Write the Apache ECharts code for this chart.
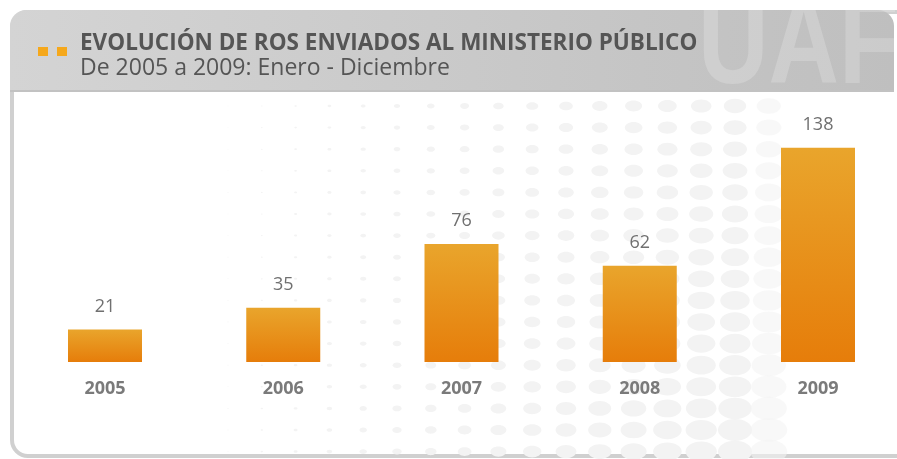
<!DOCTYPE html>
<html>
<head>
<meta charset="utf-8">
<script src="https://cdn.jsdelivr.net/npm/echarts@6/dist/echarts.min.js"></script>
<style>
  html, body { margin: 0; padding: 0; background: #fff; }
  #graph { width: 897px; height: 459px; }
</style>
</head>
<body>
<div id="graph"></div>
<script>
"use strict"

const years = ["2005", "2006", "2007", "2008", "2009"];
const rosCount = [21, 35, 76, 62, 138];
const titleText = "EVOLUCIÓN DE ROS ENVIADOS AL MINISTERIO PÚBLICO";
const subText = "De 2005 a 2009: Enero - Diciembre";

const FONT = "'Open Sans'";

// halftone dots in the background (decoration only)
function makeDots()
{
    const dots = [];
    for (let y = 106; y < 462; y += 21.6)
    {
        for (let x = 228; x < 800; x += 33.8)
        {
            const fx = (x - 220) / 480;
            const fy = 0.65 + 0.35 * Math.min(1, (y - 100) / 330);
            const rx = (0.6 + Math.pow(fx, 1.3) * 15) * fy;
            const op = x > 740 ? Math.max(0, 1 - (x - 740) / 70) : 1;
            dots.push({
                type: "ellipse",
                shape: { cx: x, cy: y, rx: rx, ry: rx * 0.64 },
                style: { fill: "#f3f3f3", opacity: op },
                z: 3, silent: true
            });
        }
    }
    return dots;
}

const myChart = echarts.init(document.getElementById("graph"), null, { renderer: "canvas" });

const option = {
    backgroundColor: "#fff",
    animation: false,
    graphic: [
        {
            type: "rect", z: 0, silent: true,
            shape: { x: 12, y: 12, width: 900, height: 444, r: 16 },
            style: { fill: "#fff", stroke: "#d0d0d0", lineWidth: 4 }
        },
        {
            type: "rect", z: 1, silent: true,
            shape: { x: 10, y: 10, width: 884, height: 82, r: [16, 16, 0, 0] },
            style: {
                fill: new echarts.graphic.LinearGradient(0, 0, 1, 0, [
                    { offset: 0, color: "#d4d4d4" },
                    { offset: 1, color: "#bfbfbf" }
                ])
            }
        },
        {
            type: "text", z: 2, silent: true,
            x: 698, y: -12, scaleX: 0.8,
            style: {
                text: "UAF", fill: "rgba(255,255,255,0.2)",
                font: "bold 122px 'Liberation Sans'"
            }
        },
        {
            type: "rect", z: 2, silent: true,
            shape: { x: 14, y: 92, width: 890, height: 60 },
            style: { fill: "#fff" }
        },
        {
            type: "rect", z: 2, silent: true,
            shape: { x: 10, y: 90, width: 884, height: 2 },
            style: { fill: "#c2c2c2" }
        },
        {
            type: "rect", z: 2, silent: true,
            shape: { x: 38, y: 47, width: 10, height: 9 },
            style: { fill: "#f5a81c" }
        },
        {
            type: "rect", z: 2, silent: true,
            shape: { x: 57, y: 47, width: 10, height: 9 },
            style: { fill: "#f5a81c" }
        },
        {
            type: "text", z: 4, silent: true,
            left: 80, top: 32,
            style: { text: titleText, fill: "#555", font: "bold 22.5px " + FONT }
        },
        {
            type: "text", z: 4, silent: true,
            left: 80, top: 57,
            style: { text: subText, fill: "#555", font: "23px " + FONT }
        },
        ...makeDots()
    ],
    grid: { left: 105, width: 713, top: 129, height: 233 },
    xAxis: {
        type: "category",
        data: years,
        boundaryGap: false,
        z: 10,
        axisLine: { show: false },
        axisTick: { show: false },
        axisLabel: {
            margin: 18,
            color: "#7a7a7a",
            fontFamily: FONT,
            fontWeight: "bold",
            fontSize: 18
        }
    },
    yAxis: {
        type: "value",
        min: 0,
        max: 150,
        show: false,
        splitLine: { show: false }
    },
    series: [{
        type: "bar",
        data: rosCount,
        barWidth: 74,
        clip: false,
        z: 10,
        itemStyle: {
            color: new echarts.graphic.LinearGradient(0, 0, 0, 1, [
                { offset: 0, color: "#e9a52c" },
                { offset: 1, color: "#e67d0a" }
            ])
        },
        label: {
            show: true,
            position: "top",
            distance: 14,
            color: "#707070",
            fontFamily: FONT,
            fontSize: 18
        }
    }]
};
myChart.setOption(option);
</script>
</body>
</html>
